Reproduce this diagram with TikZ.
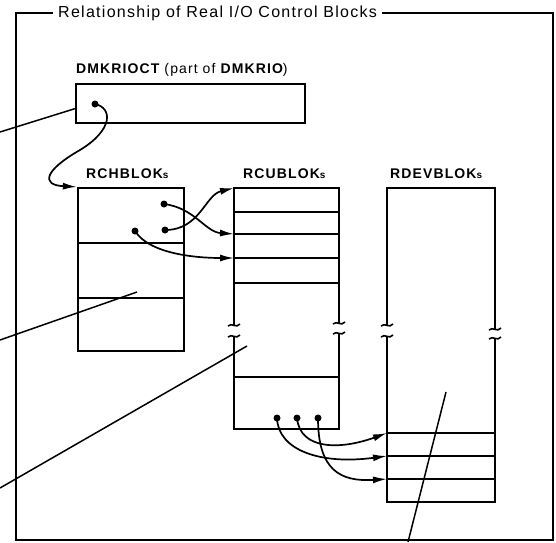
\documentclass[tikz,border=0pt]{standalone}
\usepackage{fontspec}
\setmainfont{Liberation Sans}[LetterSpace=8]
\usetikzlibrary{positioning,arrows.meta}

\begin{document}
\begin{tikzpicture}[x=1pt, y=-1pt,
    blok/.style={draw, line width=2.3pt, inner sep=0pt},
    side/.style={line width=2.3pt},
    rule/.style={line width=1.7pt},
    ptr/.style={-{Latex[length=14pt,width=7pt]}, line width=1.7pt},
    lead/.style={line width=1.5pt},
    dot/.style={circle, fill, inner sep=0pt, minimum size=7pt},
    lbl/.style={anchor=base west, inner sep=0pt, font=\fontsize{14}{16}\selectfont\bfseries},
    brk/.pic={\draw[line width=1.6pt] (-6,1) .. controls (-2,-3) and (2,4) .. (6,-1);},
  ]
    \useasboundingbox (0,0) rectangle (556,542);

    % frame and title
    \node[anchor=base west, inner sep=0pt, font=\fontsize{16}{18}\selectfont] (title) at (58,17.5)
      {Relationship of Real I/O Control Blocks};
    \draw[line width=1.8pt] ([xshift=-5pt]title.west |- 0,13) -- (16,13) -- (16,540)
      -- (553,540) -- (553,13) -- ([xshift=5pt]title.east |- 0,13);

    % DMKRIOCT
    \node[lbl] (riolbl) at (76,73) {DMKRIOCT {\mdseries (part of} DMKRIO{\mdseries )}};
    \node[blok, minimum width=229pt, minimum height=39pt] (rioct) at (190.5,103.5) {};
    \node[dot] (r1) at (95,104) {};

    % RCHBLOKs
    \node[lbl] (rchlbl) at (86,178) {RCHBLOK{\fontsize{10}{12}\selectfont s}};
    \node[blok, minimum width=106pt, minimum height=163pt] (rch) at (131,269.5) {};
    \foreach \y in {243,298}
      \draw[rule] (rch.west |- 0,\y) -- (rch.east |- 0,\y);
    \node[dot] (c1) at (164,204) {};
    \node[dot] (c2) at (165,230) {};
    \node[dot] (c3) at (135,231) {};

    % RCUBLOKs
    \node[lbl] (rculbl) at (243,178) {RCUBLOK{\fontsize{10}{12}\selectfont s}};
    \draw[side] (234,325) -- (234,188) -- (339,188) -- (339,323);
    \draw[side] (234,336) -- (234,429) -- (339,429) -- (339,333);
    \foreach \y in {212,234,258,283,377}
      \draw[rule] (234,\y) -- (339,\y);
    \foreach \x/\y in {234/325,234/336,339/323,339/333}
      \pic at (\x,\y) {brk};
    \coordinate (u1) at (234,188);
    \coordinate (u2) at (234,234);
    \coordinate (u3) at (234,258);
    \node[dot] (e1) at (277,418) {};
    \node[dot] (e2) at (297,418) {};
    \node[dot] (e3) at (318,418) {};

    % RDEVBLOKs
    \node[lbl] (rdevlbl) at (390,178) {RDEVBLOK{\fontsize{10}{12}\selectfont s}};
    \draw[side] (387,325) -- (387,188) -- (495,188) -- (495,329);
    \draw[side] (387,336) -- (387,502) -- (495,502) -- (495,338);
    \foreach \y in {433,456,479}
      \draw[rule] (387,\y) -- (495,\y);
    \foreach \x/\y in {387/325,387/336,495/329,495/338}
      \pic at (\x,\y) {brk};
    \coordinate (v1) at (387,433);
    \coordinate (v2) at (387,456);
    \coordinate (v3) at (387,479);

    % pointers
    \draw[ptr] (r1.center) .. controls (113,108) and (113,130) .. (80,150)
      .. controls (45,170) and (40,185) .. (rch.north west);
    \draw[ptr] (c1.center) .. controls (195,208) and (205,232) .. (u2);
    \draw[ptr] (c2.center) .. controls (200,230) and (205,195) .. (u1);
    \draw[ptr] (c3.center) .. controls (150,255) and (200,258) .. (u3);
    \draw[ptr] (e1.center) .. controls (278,450) and (320,465) .. (v2);
    \draw[ptr] (e2.center) .. controls (300,450) and (340,450) .. (v1);
    \draw[ptr] (e3.center) .. controls (318,470) and (340,482) .. (v3);

    % leader lines from outside
    \coordinate (a0) at (0,132);   \coordinate (a1) at (77,108);
    \coordinate (b0) at (0,340);   \coordinate (b1) at (137,292);
    \coordinate (d0) at (0,488);   \coordinate (d1) at (247,346);
    \coordinate (f0) at (446,392); \coordinate (f1) at (408,542);
    \draw[lead] (a0) -- (a1);
    \draw[lead] (b0) -- (b1);
    \draw[lead] (d0) -- (d1);
    \draw[lead] (f0) -- (f1);
  \end{tikzpicture}
\end{document}
